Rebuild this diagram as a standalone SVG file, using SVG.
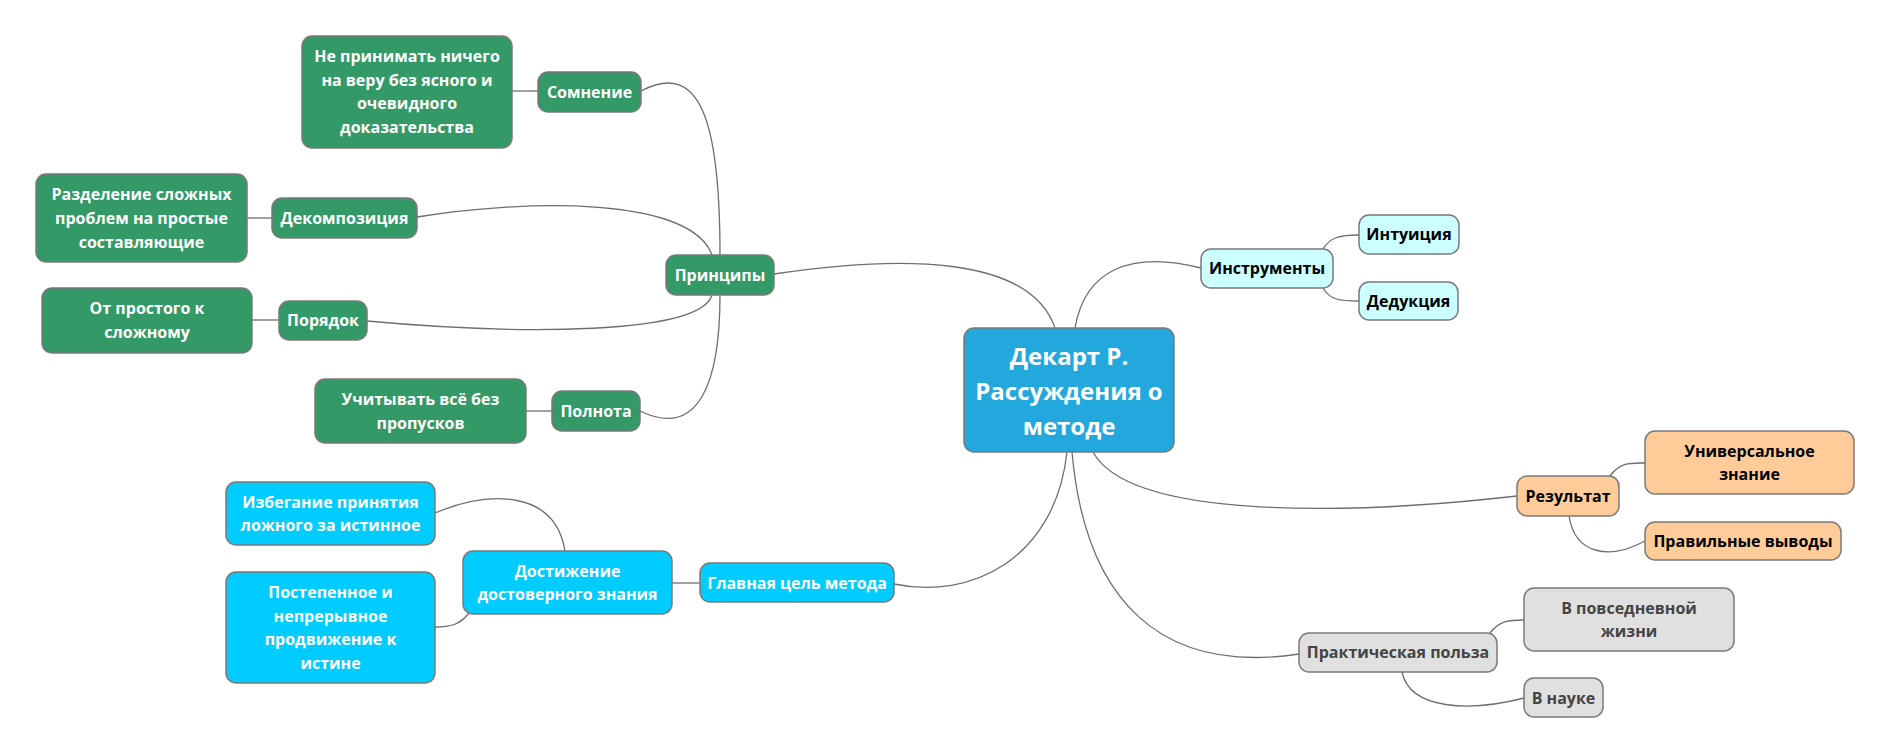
<svg xmlns="http://www.w3.org/2000/svg" width="1893" height="756" viewBox="0 0 1893 756">
<style>
rect{stroke:#7a7a7a;stroke-width:1.5}
text{font-family:"Open Sans","Noto Sans","DejaVu Sans",sans-serif;font-weight:bold;font-size:16px;text-anchor:middle;dominant-baseline:central}
.g rect{fill:#339966}.g text{fill:#fff}
.b rect{fill:#00ccff}.b text{fill:#fff}
.c rect{fill:#ccffff}.c text{fill:#000}
.o rect{fill:#ffcc99}.o text{fill:#000}
.p rect{fill:#e0e0e0}.p text{fill:#444}
.m rect{fill:#23a8de}.m text{fill:#fff;font-size:24px}
#edges path{fill:none;stroke:#6e6e6e;stroke-width:1.3}
</style>
<rect x="0" y="0" width="1893" height="756" fill="#fff" style="stroke:none"/>
<g id="edges">
<path d="M774,274 C900,255 1030,255 1055,328"/>
<path d="M641,91 C700,60 720,120 720,255"/>
<path d="M417,217 C520,200 690,195 712,255"/>
<path d="M367,321 C520,335 700,335 712,295"/>
<path d="M640,411 C700,440 720,380 720,295"/>
<path d="M512,91 L538,91"/>
<path d="M247,218 L272,218"/>
<path d="M252,320 L279,320"/>
<path d="M526,411 L552,411"/>
<path d="M1075,328 C1085,270 1130,250 1201,268"/>
<path d="M1323,249 C1330,237 1340,235 1359,235"/>
<path d="M1323,288 C1330,300 1340,301 1359,301"/>
<path d="M1093,452 C1130,520 1350,515 1517,496"/>
<path d="M1610,476 C1620,462 1630,463 1645,463"/>
<path d="M1569,516 C1575,555 1610,560 1645,541"/>
<path d="M1072,452 C1085,600 1160,675 1299,654"/>
<path d="M1490,633 C1500,620 1510,620 1524,620"/>
<path d="M1402,672 C1410,710 1470,712 1524,698"/>
<path d="M1067,452 C1055,560 970,600 894,584"/>
<path d="M672,583 L700,583"/>
<path d="M565,551 C555,490 490,490 435,513"/>
<path d="M469,613 C460,625 450,627 435,627"/>
</g>
<g id="central" class="m"><rect x="964" y="328" width="210" height="124" rx="10"/><text x="1069" y="355">Декарт Р.</text><text x="1069" y="390">Рассуждения о</text><text x="1069" y="425">методе</text></g>
<g id="principles" class="g"><rect x="666" y="255" width="108" height="40" rx="10"/><text x="720" y="275">Принципы</text></g>
<g id="doubt" class="g"><rect x="538" y="72" width="103" height="40" rx="10"/><text x="589.5" y="92">Сомнение</text></g>
<g id="doubt-d" class="g"><rect x="302" y="36" width="210" height="112" rx="10"/><text x="407" y="56">Не принимать ничего</text><text x="407" y="80">на веру без ясного и</text><text x="407" y="103">очевидного</text><text x="407" y="127">доказательства</text></g>
<g id="decomp" class="g"><rect x="272" y="198" width="145" height="40" rx="10"/><text x="344.5" y="218">Декомпозиция</text></g>
<g id="decomp-d" class="g"><rect x="36" y="174" width="211" height="88" rx="10"/><text x="141.5" y="194">Разделение сложных</text><text x="141.5" y="218">проблем на простые</text><text x="141.5" y="242">составляющие</text></g>
<g id="order" class="g"><rect x="279" y="301" width="88" height="39" rx="10"/><text x="323" y="320">Порядок</text></g>
<g id="order-d" class="g"><rect x="42" y="288" width="210" height="65" rx="10"/><text x="147" y="308">От простого к</text><text x="147" y="332">сложному</text></g>
<g id="complete" class="g"><rect x="552" y="391" width="88" height="40" rx="10"/><text x="596" y="411">Полнота</text></g>
<g id="complete-d" class="g"><rect x="315" y="379" width="211" height="64" rx="10"/><text x="420.5" y="399">Учитывать всё без</text><text x="420.5" y="423">пропусков</text></g>
<g id="tools" class="c"><rect x="1201" y="249" width="132" height="39" rx="10"/><text x="1267" y="268">Инструменты</text></g>
<g id="intuition" class="c"><rect x="1359" y="215" width="100" height="39" rx="10"/><text x="1409" y="234">Интуиция</text></g>
<g id="deduction" class="c"><rect x="1359" y="282" width="99" height="38" rx="10"/><text x="1408.5" y="301">Дедукция</text></g>
<g id="result" class="o"><rect x="1517" y="476" width="102" height="40" rx="10"/><text x="1568" y="496">Результат</text></g>
<g id="universal" class="o"><rect x="1645" y="431" width="209" height="63" rx="10"/><text x="1749.5" y="451">Универсальное</text><text x="1749.5" y="474">знание</text></g>
<g id="conclusions" class="o"><rect x="1645" y="522" width="196" height="38" rx="10"/><text x="1743" y="541">Правильные выводы</text></g>
<g id="practical" class="p"><rect x="1299" y="633" width="198" height="39" rx="10"/><text x="1398" y="652">Практическая польза</text></g>
<g id="daily" class="p"><rect x="1524" y="588" width="210" height="63" rx="10"/><text x="1629" y="608">В повседневной</text><text x="1629" y="631">жизни</text></g>
<g id="science" class="p"><rect x="1524" y="678" width="79" height="39" rx="10"/><text x="1563.5" y="698">В науке</text></g>
<g id="goal" class="b"><rect x="700" y="563" width="194" height="39" rx="10"/><text x="797" y="583">Главная цель метода</text></g>
<g id="reliable" class="b"><rect x="463" y="551" width="209" height="63" rx="10"/><text x="567.5" y="571">Достижение</text><text x="567.5" y="594">достоверного знания</text></g>
<g id="avoid" class="b"><rect x="226" y="482" width="209" height="63" rx="10"/><text x="330.5" y="502">Избегание принятия</text><text x="330.5" y="525">ложного за истинное</text></g>
<g id="gradual" class="b"><rect x="226" y="572" width="209" height="111" rx="10"/><text x="330.5" y="592">Постепенное и</text><text x="330.5" y="616">непрерывное</text><text x="330.5" y="639">продвижение к</text><text x="330.5" y="663">истине</text></g>
</svg>
